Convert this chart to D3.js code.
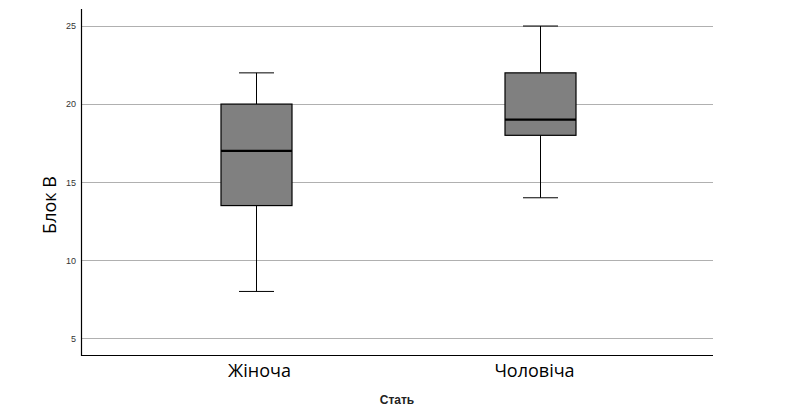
<!DOCTYPE html>
<html><head><meta charset="utf-8">
<script src="https://cdn.jsdelivr.net/npm/d3@7"></script>
<style>body{margin:0;background:#fff;}svg{display:block;}</style>
</head><body>
<svg id="c" width="788" height="410"></svg>
<script>
const categories = ["Жіноча", "Чоловіча"];
const mins = [8, 14];
const q1s = [13.5, 18];
const medians = [17, 19];
const q3s = [20, 22];
const maxs = [22, 25];
const yTicks = [5, 10, 15, 20, 25];

(function () {
const svg = d3.select("#c");
const mLeft = 81, mRight = 713, mTop = 9, mBottom = 355;
const y = d3.scaleLinear().domain([3.93, 26.09]).range([mBottom, mTop]);
const x = d3.scalePoint().domain(categories).range([mLeft, mRight + 2]).padding(0.62);
const boxW = 71, capW = 35;
const labelShift = [3, -6];

// gridlines
svg.append("g").selectAll("line").data(yTicks).join("line")
  .attr("x1", mLeft).attr("x2", mRight)
  .attr("y1", d => Math.round(y(d)) + 0.5).attr("y2", d => Math.round(y(d)) + 0.5)
  .attr("stroke", "#b0b0b0").attr("stroke-width", 1);

// y axis
const ya = svg.append("g").attr("transform", `translate(${mLeft},0)`)
  .call(d3.axisLeft(y).tickValues(yTicks).tickSize(0).tickPadding(5));
ya.select(".domain").remove();
ya.selectAll("text").attr("font-family", "Liberation Sans, Arial, sans-serif").attr("font-size", 9).attr("fill", "#333");

svg.append("line").attr("x1", mLeft + 0.5).attr("x2", mLeft + 0.5).attr("y1", mTop).attr("y2", mBottom + 1)
  .attr("stroke", "#000").attr("stroke-width", 1.2);
svg.append("line").attr("x1", mLeft).attr("x2", mRight).attr("y1", mBottom + 0.5).attr("y2", mBottom + 0.5)
  .attr("stroke", "#000").attr("stroke-width", 1.2);

// boxes
const g = svg.append("g");
categories.forEach((c, i) => {
  const cx = Math.round(x(c)) + 0.5;
  g.append("line").attr("x1", cx).attr("x2", cx).attr("y1", y(maxs[i])).attr("y2", y(q3s[i])).attr("stroke", "#000").attr("stroke-width", 1);
  g.append("line").attr("x1", cx).attr("x2", cx).attr("y1", y(q1s[i])).attr("y2", y(mins[i])).attr("stroke", "#000").attr("stroke-width", 1);
  g.append("line").attr("x1", cx - capW / 2).attr("x2", cx + capW / 2).attr("y1", y(maxs[i])).attr("y2", y(maxs[i])).attr("stroke", "#000").attr("stroke-width", 1);
  g.append("line").attr("x1", cx - capW / 2).attr("x2", cx + capW / 2).attr("y1", y(mins[i])).attr("y2", y(mins[i])).attr("stroke", "#000").attr("stroke-width", 1);
  g.append("rect").attr("x", cx - boxW / 2).attr("width", boxW)
    .attr("y", y(q3s[i])).attr("height", y(q1s[i]) - y(q3s[i]))
    .attr("fill", "#808080").attr("stroke", "#000").attr("stroke-width", 1.2);
  g.append("line").attr("x1", cx - boxW / 2).attr("x2", cx + boxW / 2).attr("y1", y(medians[i])).attr("y2", y(medians[i])).attr("stroke", "#000").attr("stroke-width", 2.2);
  svg.append("text").attr("x", cx + labelShift[i]).attr("y", 377).attr("text-anchor", "middle")
    .attr("font-family", "Open Sans, sans-serif").attr("font-size", 18).attr("fill", "#000").text(c);
});

svg.append("text").attr("x", 397).attr("y", 403.5).attr("text-anchor", "middle")
  .attr("font-family", "Liberation Sans, Arial, sans-serif").attr("font-weight", "bold").attr("font-size", 12).attr("fill", "#222").text("Стать");

svg.append("text").attr("transform", "translate(56,205) rotate(-90)").attr("text-anchor", "middle")
  .attr("font-family", "Open Sans, sans-serif").attr("font-size", 18).attr("fill", "#000").text("Блок В");
})();
</script>
</body></html>
